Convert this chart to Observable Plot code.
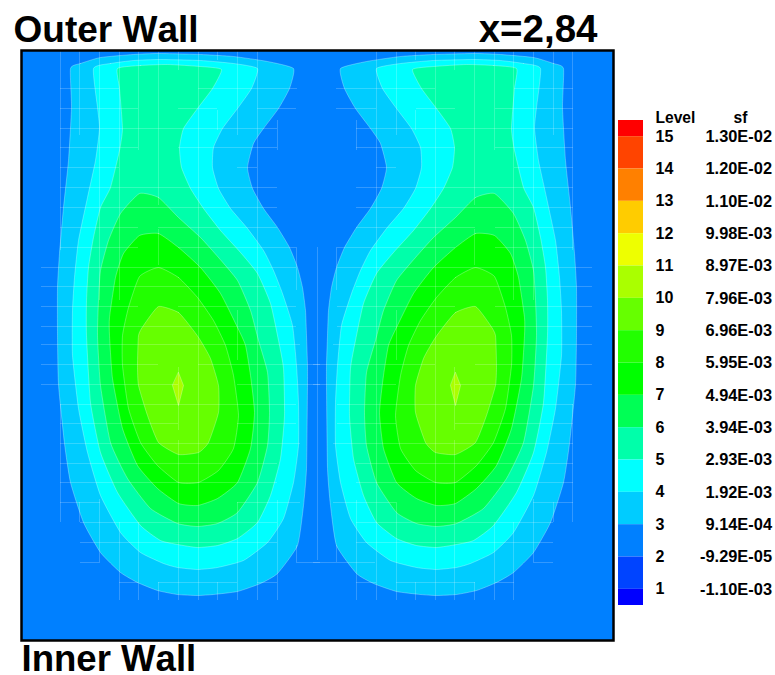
<!DOCTYPE html>
<html>
<head>
<meta charset="utf-8">
<script src="https://cdn.jsdelivr.net/npm/d3@7"></script>
<script src="https://cdn.jsdelivr.net/npm/@observablehq/plot@0.6"></script>
<style>
html,body{margin:0;padding:0;background:#fff}
#chart{position:relative;width:775px;height:675px;overflow:hidden}
#chart svg{position:absolute;left:0;top:0;background:transparent;font-family:"Liberation Sans",Arial,sans-serif;font-kerning:none}
</style>
</head>
<body>
<div id="chart"></div>
<script>
// Contour outlines of the streamfunction, in chart units, one list per level and cell
const level3Left=[[70,68],[80,63],[100,57],[133,54],[158,53],[200,54],[233,56],[267,61],[293,68],[289,88],[278,108],[263,128],[253,143],[247,167],[252,188],[263,208],[277,227],[289,247],[297,267],[302,287],[305,310],[306,335],[307,365],[307,385],[306,468],[303,505],[297,545],[277,573],[260,583],[237,591],[213,594],[197,595],[177,594],[157,590],[137,582],[120,572],[100,552],[83,522],[70,482],[64,443],[58,384],[57,335],[57,287],[59,253],[63,207],[68,160],[71,107]];
const level4Left=[[93,68],[110,63],[133,60],[160,59],[200,60],[233,63],[257,68],[251,88],[237,108],[222,128],[213,147],[212,167],[218,188],[230,208],[247,228],[263,250],[273,270],[282,293],[292,325],[296,365],[298,402],[298,445],[293,482],[283,518],[267,542],[243,560],[217,567],[197,569],[177,567],[163,563],[140,552],[120,532],[100,495],[87,452],[78,408],[72,355],[72,310],[74,277],[78,240],[87,197],[95,160],[99,128],[97,107]];
const level5Left=[[117,68],[140,65],[167,64],[200,66],[221,69],[212,88],[197,108],[183,128],[179,147],[181,167],[190,188],[203,208],[220,230],[240,252],[257,273],[270,303],[278,340],[283,368],[284,415],[280,458],[270,495],[257,522],[237,538],[217,545],[197,547],[177,544],[160,540],[140,525],[117,492],[100,452],[90,402],[86,335],[86,300],[88,267],[93,237],[100,207],[110,187],[119,150],[122,128],[119,88]];
const level6Left=[[139,193],[158,197],[178,217],[200,237],[218,257],[237,280],[250,310],[258,340],[267,372],[269,412],[267,445],[257,482],[237,512],[217,523],[197,526],[177,523],[150,508],[127,478],[110,442],[100,385],[97,335],[98,300],[100,270],[108,240],[120,213]];
const level7Left=[[139,235],[158,233],[178,247],[200,267],[220,293],[237,327],[245,345],[250,375],[254,412],[250,448],[237,482],[217,498],[197,505],[178,503],[157,488],[137,465],[122,428],[112,378],[109,335],[109,317],[115,277],[123,253]];
const level8Left=[[158,267],[178,277],[197,297],[213,320],[225,345],[233,375],[238,415],[233,448],[218,470],[198,482],[178,482],[157,465],[140,442],[128,408],[122,365],[122,335],[128,307],[139,276]];
const level9Left=[[158,306],[178,312],[193,330],[200,340],[210,358],[218,385],[218,412],[208,442],[198,452],[178,454],[158,442],[147,415],[138,385],[137,365],[138,335],[143,325]];
const level10Left=[[178,372],[183,385],[178,405],[172,385]];

const level3Right=[[563,68],[553,63],[533,57],[500,54],[475,53],[433,54],[400,56],[366,61],[340,68],[344,88],[355,108],[370,128],[380,143],[386,167],[381,188],[370,208],[356,227],[344,247],[336,267],[331,287],[328,310],[327,335],[326,365],[326,385],[327,468],[330,505],[336,545],[356,573],[373,583],[396,591],[420,594],[436,595],[456,594],[476,590],[496,582],[513,572],[533,552],[550,522],[563,482],[569,443],[575,384],[576,335],[576,287],[574,253],[570,207],[565,160],[562,107]];
const level4Right=[[540,68],[523,63],[500,60],[473,59],[433,60],[400,63],[376,68],[382,88],[396,108],[411,128],[420,147],[421,167],[415,188],[403,208],[386,228],[370,250],[360,270],[351,293],[341,325],[337,365],[335,402],[335,445],[340,482],[350,518],[366,542],[390,560],[416,567],[436,569],[456,567],[470,563],[493,552],[513,532],[533,495],[546,452],[555,408],[561,355],[561,310],[559,277],[555,240],[546,197],[538,160],[534,128],[536,107]];
const level5Right=[[516,68],[493,65],[466,64],[433,66],[412,69],[421,88],[436,108],[450,128],[454,147],[452,167],[443,188],[430,208],[413,230],[393,252],[376,273],[363,303],[355,340],[350,368],[349,415],[353,458],[363,495],[376,522],[396,538],[416,545],[436,547],[456,544],[473,540],[493,525],[516,492],[533,452],[543,402],[547,335],[547,300],[545,267],[540,237],[533,207],[523,187],[514,150],[511,128],[514,88]];
const level6Right=[[494,193],[475,197],[455,217],[433,237],[415,257],[396,280],[383,310],[375,340],[366,372],[364,412],[366,445],[376,482],[396,512],[416,523],[436,526],[456,523],[483,508],[506,478],[523,442],[533,385],[536,335],[535,300],[533,270],[525,240],[513,213]];
const level7Right=[[494,235],[475,233],[455,247],[433,267],[413,293],[396,327],[388,345],[383,375],[379,412],[383,448],[396,482],[416,498],[436,505],[455,503],[476,488],[496,465],[511,428],[521,378],[524,335],[524,317],[518,277],[510,253]];
const level8Right=[[475,267],[455,277],[436,297],[420,320],[408,345],[400,375],[395,415],[400,448],[415,470],[435,482],[455,482],[476,465],[493,442],[505,408],[511,365],[511,335],[505,307],[494,276]];
const level9Right=[[475,306],[455,312],[440,330],[433,340],[423,358],[415,385],[415,412],[425,442],[435,452],[455,454],[475,442],[486,415],[495,385],[496,365],[495,335],[490,325]];
const level10Right=[[455,372],[460,385],[455,405],[450,385]];

// Fill colour of the band inside each contour level
const bandLevels=[3,4,5,6,7,8,9,10];
const bandColors=["#00ccff","#00ffff","#00ffaa","#00ff55","#00ff00","#22ff00","#66ff00","#aaff00"];
const leftOutlines=[level3Left,level4Left,level5Left,level6Left,level7Left,level8Left,level9Left,level10Left];
const rightOutlines=[level3Right,level4Right,level5Right,level6Right,level7Right,level8Right,level9Right,level10Right];

// Computational mesh fragments that show through: [position, from, to]
const meshRows=[[88,60,119],[88,198,297],[108,60,138],[108,178,217],[108,257,296],[128,60,277],[147,60,138],[147,178,277],[167,60,119],[167,237,257],[187,60,277],[207,60,277],[227,60,138],[227,158,277],[247,60,138],[247,178,296],[267,41,296],[286,41,277],[306,41,138],[306,178,296],[326,41,296],[344,41,300],[364,41,158],[364,198,320],[384,41,178],[384,237,320],[404,60,296],[423,60,178],[423,237,296],[443,60,300],[463,60,277],[482,60,277],[502,60,100],[502,237,300],[522,80,277],[542,80,277],[562,80,100],[562,296,320],[582,119,138],[582,158,237],[582,257,277],
[88,336,435],[88,514,573],[108,336,376],[108,416,455],[108,495,573],[128,356,573],[147,356,455],[147,495,573],[167,376,396],[167,514,573],[187,356,573],[207,356,573],[227,356,475],[227,495,573],[247,337,455],[247,495,573],[267,337,592],[286,356,592],[306,337,455],[306,495,592],[326,337,592],[344,333,592],[364,313,435],[364,475,592],[384,313,396],[384,455,592],[404,337,573],[423,337,396],[423,455,573],[443,333,573],[463,356,573],[482,356,573],[502,333,396],[502,533,573],[522,356,553],[542,356,553],[562,313,375],[562,533,553],[582,356,376],[582,396,475],[582,495,514]];
const meshColumns=[[60,51,250],[60,404,522],[79,51,135],[79,502,522],[99,51,300],[99,499,562],[119,51,300],[119,522,600],[138,51,150],[138,522,600],[158,51,205],[158,229,265],[158,582,600],[178,51,70],[178,367,430],[178,440,600],[198,51,600],[217,51,60],[217,110,130],[217,582,600],[237,51,135],[237,310,360],[237,502,600],[257,51,600],[277,120,150],[277,500,600],[296,247,290],[296,545,562],[317,247,560],
[336,247,290],[336,545,562],[356,120,150],[356,500,600],[376,51,600],[396,51,135],[396,310,360],[396,502,600],[415,51,60],[415,110,130],[415,582,600],[435,51,600],[454,51,70],[454,367,430],[454,440,600],[474,51,205],[474,229,265],[474,582,600],[494,51,150],[494,522,600],[513,51,300],[513,522,600],[533,51,300],[533,499,562],[553,51,135],[553,502,522],[572,51,250],[572,404,522]];

// Titles
const titleTexts=["Outer Wall","x=2,84","Inner Wall"];

// Legend
const legendLevels=[15,14,13,12,11,10,9,8,7,6,5,4,3,2,1];
const legendValues=["1.30E-02","1.20E-02","1.10E-02","9.98E-03","8.97E-03","7.96E-03","6.96E-03","5.95E-03","4.94E-03","3.94E-03","2.93E-03","1.92E-03","9.14E-04","-9.29E-05","-1.10E-03"];
const legendTops=[15.5,15,14,13,12,11,10,9,8,7,6,5,4,3,2,1];
const legendBottoms=[15,14,13,12,11,10,9,8,7,6,5,4,3,2,1,0.5];
const legendColors=["#ff0000","#ff4400","#ff8000","#ffcc00","#eeff00","#aaff00","#66ff00","#22ff00","#00ff00","#00ff55","#00ffaa","#00ffff","#00ccff","#0080ff","#0044ff","#0000ff"];

const polygonMarks=outlines=>outlines.map((outline,i)=>Plot.line(outline,{
  x:d=>d[0],y:d=>d[1],
  curve:i===outlines.length-1?"linear-closed":"cardinal-closed",tension:0.5,
  fill:bandColors[i],stroke:"#ffffff",strokeOpacity:0.28,strokeWidth:1
}));

const titleStyle={fontFamily:"Liberation Sans",fontWeight:"bold",fill:"#000",lineAnchor:"bottom"};

const main=Plot.plot({
  width:775,height:675,
  marginLeft:21,marginRight:162,marginTop:50,marginBottom:35,
  x:{domain:[21,613],range:[21,613],axis:null},
  y:{domain:[50,640],range:[50,640],axis:null},
  style:{background:"transparent"},
  marks:[
    Plot.frame({fill:"#0080ff"}),
    ...polygonMarks(leftOutlines),
    ...polygonMarks(rightOutlines),
    Plot.ruleY(meshRows,{y:d=>d[0],x1:d=>d[1],x2:d=>d[2],stroke:"#ffffff",strokeOpacity:0.2,strokeWidth:1}),
    Plot.ruleX(meshColumns,{x:d=>d[0],y1:d=>d[1],y2:d=>d[2],stroke:"#ffffff",strokeOpacity:0.2,strokeWidth:1}),
    Plot.frame({stroke:"#000",strokeWidth:2.5}),
    Plot.text([titleTexts[0]],{text:d=>d,x:()=>13,y:()=>41.5,textAnchor:"start",fontSize:37,...titleStyle}),
    Plot.text([titleTexts[1]],{text:d=>d,x:()=>597,y:()=>41.5,textAnchor:"end",fontSize:38.5,...titleStyle}),
    Plot.text([titleTexts[2]],{text:d=>d,x:()=>21,y:()=>670,textAnchor:"start",fontSize:36.6,...titleStyle})
  ]
});

const legendRows=legendColors.map((color,i)=>({color,top:legendTops[i],bottom:legendBottoms[i]}));
const legendLabels=legendLevels.map((level,i)=>({level,value:legendValues[i]}));
const labelStyle={fontFamily:"Liberation Sans",fontWeight:"bold",fill:"#000",lineAnchor:"middle"};

const legend=Plot.plot({
  width:775,height:675,
  marginLeft:0,marginRight:0,marginTop:0,marginBottom:0,
  x:{domain:[0,775],range:[0,775],axis:null},
  y:{domain:[0.5,15.5],range:[605,120],axis:null},
  style:{background:"transparent"},
  marks:[
    Plot.rectY(legendRows,{x1:()=>618,x2:()=>643,y1:"bottom",y2:"top",fill:"color",inset:0}),
    Plot.text(legendLabels,{x:()=>655,y:"level",text:d=>String(d.level),textAnchor:"start",fontSize:16,...labelStyle}),
    Plot.text(legendLabels,{x:()=>771.5,y:"level",text:"value",textAnchor:"end",fontSize:16.4,...labelStyle}),
    Plot.text(["Level"],{text:d=>d,x:()=>655,y:()=>15.58,textAnchor:"start",fontSize:15.6,...labelStyle}),
    Plot.text(["sf"],{text:d=>d,x:()=>740,y:()=>15.58,textAnchor:"middle",fontSize:15.6,...labelStyle})
  ]
});

const host=document.getElementById("chart");
host.append(main,legend);
</script>
</body>
</html>
